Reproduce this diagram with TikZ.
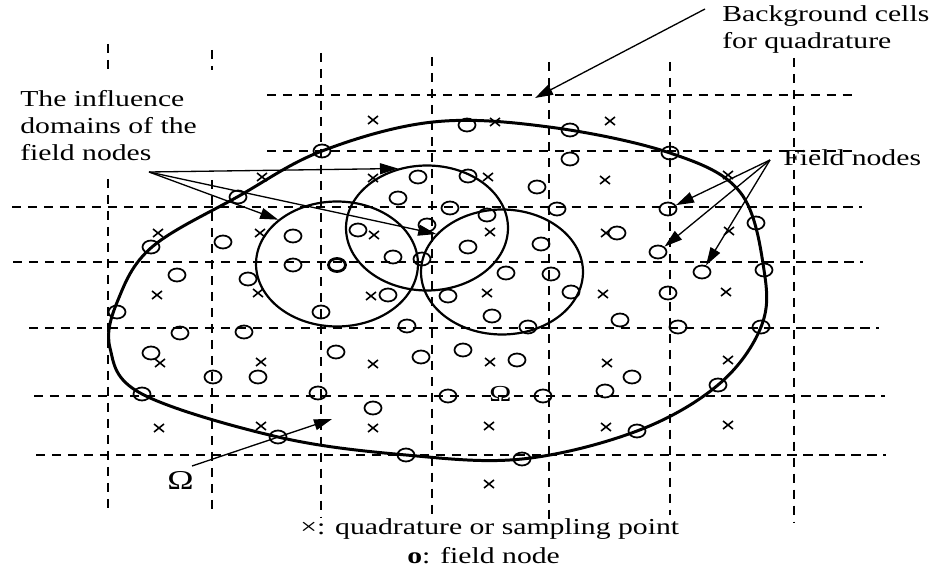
\documentclass[tikz,border=0pt]{standalone}
\usepackage{fontspec}
\setmainfont{Liberation Serif}[FakeStretch=1.3]
\usetikzlibrary{arrows.meta,shapes.geometric}

\begin{document}
\begin{tikzpicture}[x=0.02cm,y=-0.02cm,>={Triangle[length=0.36cm,width=0.22cm]},
  cellline/.style={dash pattern=on 5.3pt off 3.8pt,line width=1.1pt},
  fnode/.style={draw,ellipse,inner sep=0pt,minimum width=0.34cm,minimum height=0.26cm,line width=1pt},
  infdom/.style={draw,ellipse,inner sep=0pt,minimum width=3.24cm,minimum height=2.5cm,line width=1.25pt},
  xmark/.style={line width=0.9pt},
  arr/.style={->,line width=0.75pt},
  lbl/.style={font=\fontsize{13pt}{15.4pt}\selectfont,inner sep=0pt,align=left}]
  \useasboundingbox (0,0) rectangle (938,581);

  % background cells
  \foreach \x/\a/\b in {108/44/73,108/179/510,212/50/70,212/180/515,321/53/517,
                        432/57/515,549/62/520,670/62/515,794/58/523}
    \draw[cellline] (\x,\a) -- (\x,\b);
  \foreach \y/\a/\b in {95/267/855,151/267/857,207/12/862,262/13/863,
                        328/29/879,396/34/885,455/36/886}
    \draw[cellline] (\a,\y) -- (\b,\y);

  % problem domain
  \draw[line width=1.7pt] plot[smooth cycle,tension=0.6] coordinates {
    (239,196) (322,151) (433,122) (549,127) (670,153) (740,192) (764,270)
    (761,327) (718,385) (637,431) (522,459) (406,455) (278,437) (142,394)
    (110,348) (118,300) (152,247)};

  % influence domains
  \node[infdom] (dom1) at (337,264) {};
  \node[infdom] (dom2) at (427,228) {};
  \node[infdom] (dom3) at (502,272) {};

  % quadrature points
  \foreach \x/\y in {373/120,495/122,610/121,
                     262/177,373/178,488/177,605/180,728/175,
                     158/233,260/233,374/235,490/232,606/233,729/231,
                     157/295,258/293,371/296,487/293,603/294,726/292,
                     160/363,261/362,373/364,490/362,607/363,728/360,
                     159/428,261/426,373/428,489/426,606/427,728/425,489/484}
    \draw[xmark] (\x-5,\y-4) -- (\x+5,\y+4) (\x-5,\y+4) -- (\x+5,\y-4);

  % field nodes
  \foreach \x/\y [count=\i] in {322/151,238/197,151/247,117/312,142/394,278/437,
                     406/455,522/459,637/431,718/385,761/327,764/270,756/223,
                     670/153,570/130,467/125,
                     570/159,418/177,468/176,537/187,398/198,450/208,557/209,
                     487/215,223/242,293/236,358/230,427/225,617/233,
                     177/275,293/265,393/257,422/259,468/247,541/244,
                     248/279,506/273,551/274,388/295,448/296,571/292,668/293,
                     321/312,492/316,620/320,180/333,244/332,407/326,528/327,
                     678/327,151/353,336/352,421/357,463/350,517/360,
                     213/377,258/377,632/377,318/393,448/396,543/396,605/391,373/408}
    \node[fnode] (f\i) at (\x,\y) {};
  \node[fnode,line width=1.6pt] (fbold) at (337,265) {};
  \node[fnode] (fa) at (668,209) {};
  \node[fnode] (fb) at (658,252) {};
  \node[fnode] (fc) at (702,272) {};

  % labels
  \node[lbl,anchor=north west] (infl) at (20,90) {The influence\\domains of the\\field nodes};
  \node[lbl,anchor=north west] (cells) at (722,5) {Background cells\\for quadrature};
  \node[lbl,anchor=base west] (fnl) at (783,166) {Field nodes};
  \node[lbl,anchor=base west] (om1) at (489,401) {Ω};
  \node[lbl,anchor=base west,font=\fontsize{15.5pt}{18pt}\selectfont] (om2) at (167,489) {Ω};
  \node[lbl,anchor=base west] (key1) at (300,535) {×: quadrature or sampling point};
  \node[lbl,anchor=base west] (key2) at (407,563) {\textbf{o}: field node};

  % pointers
  \coordinate (infsrc) at (149,172);
  \coordinate (cellsrc) at (705,9);
  \coordinate (celltip) at (535,98);
  \coordinate (fnsrc) at (770,160);
  \coordinate (omsrc) at (192,466);
  \coordinate (omtip) at (332,419);
  \draw[arr] (infsrc) -- (dom2.116);
  \draw[arr] (infsrc) -- (dom1.143);
  \draw[arr] (infsrc) -- (dom3.150);
  \draw[arr] (cellsrc) -- (celltip);
  \draw[arr] (fnsrc) -- (fa);
  \draw[arr] (fnsrc) -- (fb);
  \draw[arr] (fnsrc) -- (fc);
  \draw[arr] (omsrc) -- (omtip);
\end{tikzpicture}
\end{document}
